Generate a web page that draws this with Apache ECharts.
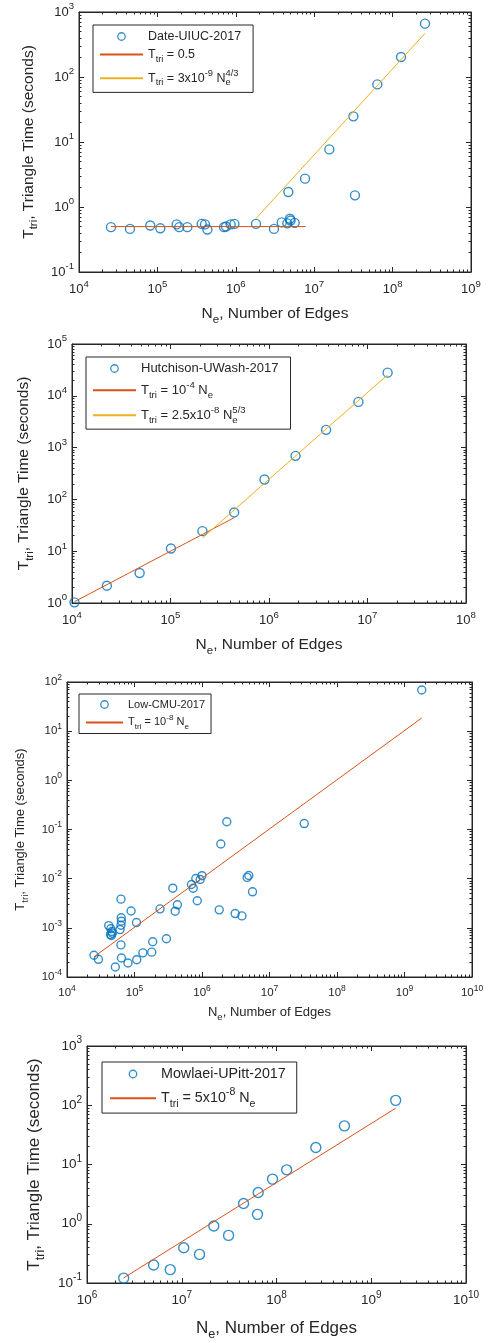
<!DOCTYPE html>
<html><head><meta charset="utf-8">
<script src="https://cdn.jsdelivr.net/npm/echarts@6/dist/echarts.min.js"></script>
<style>html,body{margin:0;padding:0;background:#fff}#c{width:494px;height:1343px}</style>
</head><body><div id="c"></div>
<script>
// ---------- data ----------
// Panel 1: Date-UIUC-2017
const p1Name = 'Date-UIUC-2017';
const p1Edges = [2.56e4,4.47e4,8.1e4,1.09e5,1.76e5,1.9e5,2.41e5,3.67e5,4.05e5,4.34e5,7.08e5,7.5e5,8.6e5,9.6e5,1.81e6,3.07e6,3.85e6,4.54e6,4.68e6,4.9e6,5.0e6,5.64e6,7.64e6,1.56e7,3.16e7,3.31e7,6.38e7,1.28e8,2.59e8];
const p1Times = [0.49,0.46,0.52,0.47,0.54,0.49,0.49,0.55,0.54,0.45,0.49,0.50,0.54,0.55,0.55,0.46,0.58,0.56,1.70,0.66,0.62,0.57,2.73,7.7,24.8,1.51,77,203,662];
const p1FlatName = 'T_tri = 0.5';
const p1FlatEdges = [2.56e4, 7.8e6];
const p1FlatTimes = [0.5, 0.5];
const p1PowName = 'T_tri = 3x10^-9 N_e^4/3';
const p1PowEdges = [1.8e6, 2.59e8];
const p1PowTimes = [0.66, 470];
const p1XRange = [1e4, 1e9];
const p1YRange = [1e-1, 1e3];

// Panel 2: Hutchison-UWash-2017
const p2Name = 'Hutchison-UWash-2017';
const p2Edges = [1.06e4,2.26e4,4.86e4,1.01e5,2.11e5,4.43e5,9.0e5,1.86e6,3.8e6,8.09e6,1.6e7];
const p2Times = [1.03,2.16,3.79,11.3,24.4,56,242,693,2200,7620,28000];
const p2LinName = 'T_tri = 10^-4 N_e';
const p2LinEdges = [1.06e4, 4.43e5];
const p2LinTimes = [1.06, 44.3];
const p2PowName = 'T_tri = 2.5x10^-8 N_e^5/3';
const p2PowEdges = [2.11e5, 1.6e7];
const p2PowTimes = [18, 25400];
const p2XRange = [1e4, 1e8];
const p2YRange = [1e0, 1e5];

// Panel 3: Low-CMU-2017
const p3Name = 'Low-CMU-2017';
const p3Edges = [2.51e4,2.92e4,4.15e4,4.45e4,4.6e4,4.4e4,4.55e4,4.7e4,5.2e4,6.3e4,6.35e4,6.4e4,6.3e4,6.1e4,6.3e4,6.4e4,8.0e4,8.9e4,1.08e5,1.07e5,1.33e5,1.8e5,1.86e5,2.39e5,2.97e5,3.69e5,4.0e5,4.32e5,6.98e5,7.4e5,8.1e5,8.5e5,9.4e5,1.0e6,1.8e6,1.9e6,2.33e6,3.1e6,3.9e6,4.67e6,4.94e6,5.6e6,3.27e7,1.8e9];
const p3Times = [2.77e-4,2.29e-4,1.11e-3,9.6e-4,8.4e-4,7.3e-4,7.0e-4,7.8e-4,1.6e-4,3.83e-3,1.6e-3,1.36e-3,1.13e-3,9.2e-4,4.5e-4,2.44e-4,1.93e-4,2.2e-3,2.25e-4,1.28e-3,3.1e-4,3.2e-4,5.2e-4,2.43e-3,6.0e-4,6.4e-3,2.18e-3,2.94e-3,7.6e-3,6.4e-3,1.01e-2,3.55e-3,9.6e-3,1.15e-2,2.32e-3,5.06e-2,0.144,1.95e-3,1.75e-3,1.06e-2,1.16e-2,5.4e-3,0.132,68.7];
const p3LinName = 'T_tri = 10^-8 N_e';
const p3LinEdges = [2.5e4, 1.8e9];
const p3LinTimes = [2.56e-4, 18.5];
const p3XRange = [1e4, 1e10];
const p3YRange = [1e-4, 1e2];

// Panel 4: Mowlaei-UPitt-2017
const p4Name = 'Mowlaei-UPitt-2017';
const p4Edges = [2.44e6,5.05e6,7.56e6,1.05e7,1.54e7,2.18e7,3.12e7,4.49e7,6.3e7,6.41e7,9.08e7,1.28e8,2.6e8,5.21e8,1.81e9];
const p4Times = [0.121,0.201,0.168,0.394,0.304,0.914,0.636,2.2,1.44,3.37,5.66,8.13,19.4,44.9,121];
const p4LinName = 'T_tri = 5x10^-8 N_e';
const p4LinEdges = [2.44e6, 1.81e9];
const p4LinTimes = [0.122, 89];
const p4XRange = [1e6, 1e10];
const p4YRange = [1e-1, 1e3];

const xTitle = '{b|N}{s|e}{b|, Number of Edges}';
const yTitle = '{b|T}{s|tri}{b|, Triangle Time (seconds)}';

const legendRichText = {
  'T_tri = 0.5': '{b|T}{s|tri}{b| = 0.5}',
  'T_tri = 3x10^-9 N_e^4/3': '{b|T}{s|tri}{b| = 3x10}{p|-9}{b| N}{z|e}{p|4/3}',
  'T_tri = 10^-4 N_e': '{b|T}{s|tri}{b| = 10}{p|-4}{b| N}{s|e}',
  'T_tri = 2.5x10^-8 N_e^5/3': '{b|T}{s|tri}{b| = 2.5x10}{p|-8}{b| N}{z|e}{p|5/3}',
  'T_tri = 10^-8 N_e': '{b|T}{s|tri}{b| = 10}{p|-8}{b| N}{s|e}',
  'T_tri = 5x10^-8 N_e': '{b|T}{s|tri}{b| = 5x10}{p|-8}{b| N}{s|e}'
};

// ---------- styling ----------
const BLUE = '#0072BD', RED = '#D95319', YEL = '#EDB120', INK = '#262626';
const FONT = '"Liberation Sans", Arial, Helvetica, sans-serif';

function rich(fs) {
  const small = Math.round(fs * 0.74 * 10) / 10;
  return {
    b: { fontSize: fs, fontFamily: FONT, color: INK },
    s: { fontSize: small, fontFamily: FONT, color: INK, padding: [fs * 0.75, 0, 0, 0] },
    z: { fontSize: small, fontFamily: FONT, color: INK, padding: [fs * 0.75, 0, 0, 0], width: 0 },
    p: { fontSize: small, fontFamily: FONT, color: INK, padding: [0, 0, fs * 0.8, 0] }
  };
}
function pow10Label(v) {
  const e = Math.round(Math.log10(v));
  return '{b|10}{p|' + e + '}';
}
function zip(a, b) { return a.map((v, i) => [v, b[i]]); }

const panels = [
  { grid: { left: 79, top: 12, width: 392, height: 260 }, xr: p1XRange, yr: p1YRange,
    tickFs: 13, titleFs: 15.5, legFs: 12.5, xGap: 30, yGap: 36, sym: 9, legW: 43, legGap: 4,
    legend: { left: 93, top: 25, padding: [5, 12, 5, 6], itemGap: 5 },
    scatter: [p1Name, p1Edges, p1Times],
    lines: [[p1FlatName, p1FlatEdges, p1FlatTimes, RED], [p1PowName, p1PowEdges, p1PowTimes, YEL]] },
  { grid: { left: 72, top: 344, width: 394, height: 259 }, xr: p2XRange, yr: p2YRange,
    tickFs: 13, titleFs: 15.5, legFs: 13, xGap: 30, yGap: 36, sym: 9, legW: 43, legGap: 4,
    legend: { left: 86, top: 357, padding: [5, 12, 4, 6], itemGap: 5 },
    scatter: [p2Name, p2Edges, p2Times],
    lines: [[p2LinName, p2LinEdges, p2LinTimes, RED], [p2PowName, p2PowEdges, p2PowTimes, YEL]] },
  { grid: { left: 67, top: 682, width: 405, height: 295 }, xr: p3XRange, yr: p3YRange,
    tickFs: 11.5, titleFs: 13, legFs: 11, xGap: 26, yGap: 35, sym: 8, legW: 37, legGap: 3,
    legend: { left: 79, top: 694, padding: [5, 6, 3, 6], itemGap: 4 },
    scatter: [p3Name, p3Edges, p3Times],
    lines: [[p3LinName, p3LinEdges, p3LinTimes, RED]] },
  { grid: { left: 87, top: 1046, width: 379, height: 237 }, xr: p4XRange, yr: p4YRange,
    tickFs: 13.5, titleFs: 17, legFs: 14.3, xGap: 32, yGap: 40, sym: 10, legW: 46, legGap: 6,
    legend: { left: 102, top: 1062, padding: [5, 11, 4, 7], itemGap: 6 },
    scatter: [p4Name, p4Edges, p4Times],
    lines: [[p4LinName, p4LinEdges, p4LinTimes, RED]] }
];

const option = { backgroundColor: '#fff', animation: false, grid: [], xAxis: [], yAxis: [], series: [], legend: [] };
const N = panels.length;

function axisBase(gi, r) {
  return {
    type: 'log', gridIndex: gi, min: r[0], max: r[1],
    axisTick: { show: true, inside: true, length: 5, lineStyle: { color: INK, width: 1 } },
    minorTick: { show: true, splitNumber: 9, length: 2.5, lineStyle: { color: INK, width: 1 } },
    axisLine: { show: true, lineStyle: { color: INK, width: 1 } },
    splitLine: { show: false }
  };
}

// main grids (0..N-1): data, bottom/left axes with labels
panels.forEach((p, i) => {
  option.grid.push(Object.assign({ show: true, borderColor: INK, borderWidth: 1, backgroundColor: 'transparent' }, p.grid));
  option.xAxis.push(Object.assign(axisBase(i, p.xr), {
    axisLabel: { formatter: pow10Label, margin: 7, rich: rich(p.tickFs) },
    name: xTitle, nameLocation: 'middle', nameGap: p.xGap, nameTextStyle: { rich: rich(p.titleFs) }
  }));
  option.yAxis.push(Object.assign(axisBase(i, p.yr), {
    axisLabel: { formatter: pow10Label, margin: 5, rich: rich(p.tickFs) },
    name: yTitle, nameLocation: 'middle', nameGap: p.yGap, nameTextStyle: { rich: rich(p.titleFs) }
  }));

  const legendData = [{ name: p.scatter[0], itemStyle: { borderWidth: 1.3 } }];
  option.series.push({
    type: 'scatter', name: p.scatter[0], xAxisIndex: i, yAxisIndex: i,
    data: zip(p.scatter[1], p.scatter[2]), symbol: 'circle', symbolSize: p.sym,
    itemStyle: { color: 'rgba(0,0,0,0)', borderColor: BLUE, borderWidth: 1.4 }, z: 2
  });
  p.lines.forEach(l => {
    legendData.push({ name: l[0], itemStyle: { opacity: 0 } });
    option.series.push({
      type: 'line', name: l[0], xAxisIndex: i, yAxisIndex: i,
      data: zip(l[1], l[2]), symbol: 'none', lineStyle: { color: l[3], width: 1 }, itemStyle: { color: l[3] }, z: 3
    });
  });
  option.legend.push(Object.assign({
    orient: 'vertical', data: legendData, itemWidth: p.legW, itemHeight: 7.5, itemTextGap: p.legGap,
    borderColor: INK, borderWidth: 1, backgroundColor: '#fff', selectedMode: false, z: 10,
    formatter: n => legendRichText[n] || ('{b|' + n + '}'),
    textStyle: { rich: rich(p.legFs), fontSize: p.legFs, fontFamily: FONT }
  }, p.legend));
});

// mirror grids (N..2N-1): same rectangles, top/right axes with ticks only (MATLAB box)
panels.forEach((p, i) => {
  const gi = N + i;
  option.grid.push(Object.assign({ show: false }, p.grid));
  option.xAxis.push(Object.assign(axisBase(gi, p.xr), { position: 'top', axisLabel: { show: false } }));
  option.yAxis.push(Object.assign(axisBase(gi, p.yr), { position: 'right', axisLabel: { show: false } }));
});

const chart = echarts.init(document.getElementById('c'), null, { renderer: 'canvas' });
chart.setOption(option);
</script></body></html>
